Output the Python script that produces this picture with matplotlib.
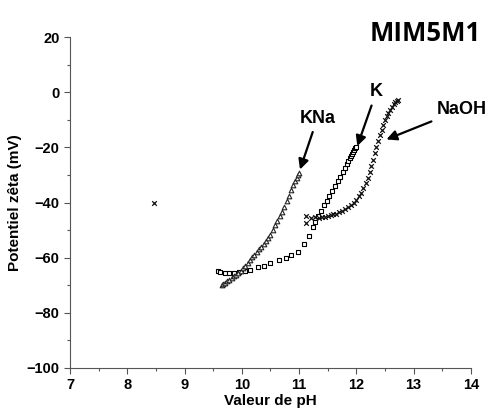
import matplotlib.pyplot as plt
from matplotlib.ticker import MultipleLocator

plt.rcParams['font.family'] = ['Liberation Sans', 'DejaVu Sans']
plt.rcParams['font.weight'] = 'bold'

# Serie KNa (triangles)
ph_kna = [9.66, 9.68, 9.71, 9.74, 9.78, 9.82, 9.86, 9.90, 9.94, 9.98, 10.02, 10.06,
          10.10, 10.14, 10.18, 10.22, 10.26, 10.30, 10.34, 10.38, 10.42, 10.46, 10.50,
          10.54, 10.58, 10.62, 10.66, 10.70, 10.74, 10.78, 10.82, 10.86, 10.90, 10.93,
          10.96, 10.98, 11.00]
zeta_kna = [-70.0, -69.7, -69.2, -68.6, -68.0, -67.3, -66.8, -66.2, -65.6, -64.8, -63.9, -62.9,
            -61.8, -60.8, -59.8, -58.9, -58.0, -57.0, -56.0, -55.0, -54.0, -53.0, -51.7,
            -50.1, -48.3, -46.6, -45.0, -43.3, -41.5, -39.5, -37.5, -35.5, -33.6, -32.2,
            -31.0, -30.2, -29.3]

# Serie K (carres)
ph_k = [9.58, 9.62, 9.70, 9.78, 9.86, 9.95, 10.05, 10.15, 10.28, 10.39, 10.50, 10.65,
        10.77, 10.86, 10.98, 11.09, 11.18, 11.24, 11.28, 11.33, 11.38, 11.43, 11.48,
        11.53, 11.58, 11.63, 11.68, 11.72, 11.76, 11.80, 11.83, 11.86, 11.88, 11.90,
        11.92, 11.94, 11.96, 11.98, 12.00]
zeta_k = [-65.0, -65.3, -65.5, -65.6, -65.5, -65.3, -65.0, -64.4, -63.5, -63.0, -62.0, -61.0,
          -60.0, -59.0, -58.0, -55.0, -52.0, -49.0, -47.0, -45.0, -43.0, -41.0, -39.5,
          -37.5, -35.8, -34.0, -32.3, -30.6, -29.0, -27.4, -26.2, -25.0, -24.0, -23.2,
          -22.4, -21.6, -20.9, -20.3, -19.8]

# Serie NaOH (etoiles)
ph_naoh = [8.46, 11.12, 11.12, 11.21, 11.28, 11.35, 11.40, 11.45, 11.50, 11.55, 11.60,
           11.65, 11.70, 11.75, 11.80, 11.85, 11.90, 11.95, 12.00, 12.04, 12.08, 12.12,
           12.16, 12.20, 12.23, 12.26, 12.29, 12.32, 12.35, 12.38, 12.41, 12.44, 12.47,
           12.50, 12.53, 12.56, 12.59, 12.62, 12.65, 12.68, 12.71, 12.73]
zeta_naoh = [-40.0, -45.0, -47.3, -45.5, -45.3, -45.5, -45.3, -45.1, -44.9, -44.6, -44.3,
             -44.0, -43.6, -43.1, -42.5, -41.8, -41.0, -40.1, -39.0, -37.8, -36.4, -34.8,
             -33.0, -31.0, -29.0, -26.8, -24.5, -22.0, -19.8, -17.6, -15.5, -13.6, -11.8,
             -10.2, -8.8, -7.5, -6.3, -5.3, -4.4, -3.7, -3.1, -2.8]

x_ticks = [7, 8, 9, 10, 11, 12, 13, 14]
y_ticks = [20, 0, -20, -40, -60, -80, -100]

fig = plt.figure(figsize=(4.95, 4.16), dpi=100)
ax = fig.add_axes([0.1414, 0.1154, 0.81, 0.7956])

ax.scatter(ph_k, zeta_k, marker='s', s=10, facecolors='white', edgecolors='black', linewidths=0.8)
ax.scatter(ph_kna, zeta_kna, marker='^', s=11, facecolors='white', edgecolors='#222222', linewidths=0.8)
ax.scatter(ph_naoh, zeta_naoh, marker='x', s=11, color='#111111', linewidths=0.9)

ax.set_xlim(7, 14)
ax.set_ylim(-100, 20)
ax.set_xticks(x_ticks)
ax.set_xticklabels([str(v) for v in x_ticks], fontweight='bold', fontsize=10.5)
ax.set_yticks(y_ticks)
ax.set_yticklabels([str(v).replace('-', '\u2212') for v in y_ticks], fontweight='bold', fontsize=10.5)
ax.xaxis.set_minor_locator(MultipleLocator(0.5))
ax.yaxis.set_minor_locator(MultipleLocator(10))
ax.tick_params(which='major', length=4, width=0.8, color='#555555')
ax.tick_params(which='minor', length=2.5, width=0.8, color='#555555')
for s in ['top', 'right']:
    ax.spines[s].set_visible(False)
for s in ['left', 'bottom']:
    ax.spines[s].set_color('#555555')

ax.set_xlabel('Valeur de pH', fontsize=11, fontweight='bold', labelpad=1)
ax.set_ylabel('Potentiel zêta (mV)', fontsize=11, fontweight='bold', labelpad=3)

fleche = dict(arrowstyle='-|>', lw=1.6, mutation_scale=15, color='black')
ax.annotate('KNa', xy=(11.0, -29), xytext=(11.32, -9.4), fontsize=13, fontweight='bold',
            ha='center', va='center', arrowprops=fleche)
ax.annotate('K', xy=(12.0, -20.5), xytext=(12.35, 0.2), fontsize=13, fontweight='bold',
            ha='center', va='center', arrowprops=fleche)
ax.annotate('NaOH', xy=(12.48, -17.5), xytext=(13.84, -6.2), fontsize=13, fontweight='bold',
            ha='center', va='center', arrowprops=fleche)

fig.text(0.859, 0.919, 'MIM5M1', fontsize=18.5, fontweight='bold', family='Open Sans',
         ha='center', va='center')

fig.savefig('out.png', dpi=100)
